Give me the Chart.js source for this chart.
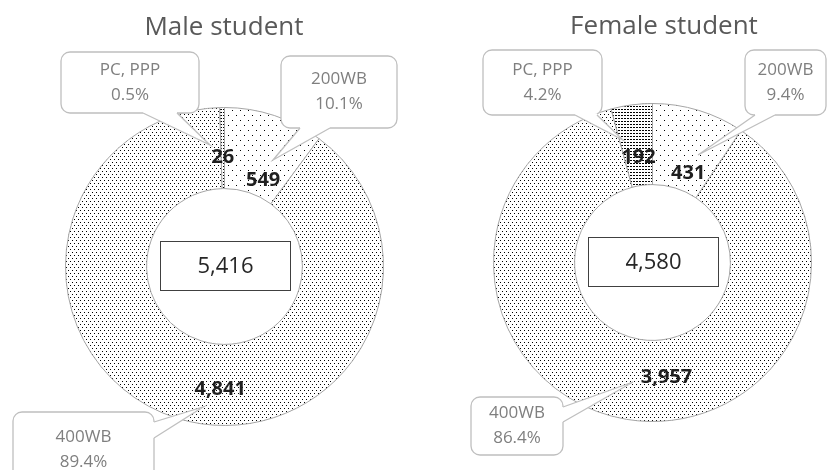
<!DOCTYPE html>
<html>
<head>
<meta charset="utf-8">
<script src="https://cdn.jsdelivr.net/npm/chart.js@4.4.1/dist/chart.umd.min.js"></script>
<style>
  html, body { margin: 0; padding: 0; background: #fff; }
  #marco { position: relative; width: 833px; height: 470px; overflow: hidden; }
  canvas { position: absolute; top: 0; }
</style>
</head>
<body>
<div id="marco">
  <canvas id="graficaHombres" width="416" height="470" style="left:0"></canvas>
  <canvas id="graficaMujeres" width="417" height="470" style="left:416px"></canvas>
</div>
<script>
// ── Datos ─────────────────────────────────────────────────
const categorias = ['200WB', '400WB', 'PC, PPP'];
const valoresHombres = [549, 4841, 26];
const valoresMujeres = [431, 3957, 192];
const titulos = ['Male student', 'Female student'];

// ── Tramas de puntos ──────────────────────────────────────
function crearTrama(ancho, alto, puntos, color) {
  const c = document.createElement('canvas');
  c.width = ancho; c.height = alto;
  const ctx = c.getContext('2d');
  ctx.fillStyle = '#fff';
  ctx.fillRect(0, 0, ancho, alto);
  ctx.fillStyle = color;
  puntos.forEach(([x, y]) => ctx.fillRect(x, y, 1, 1));
  return ctx.createPattern(c, 'repeat');
}

const tramas = [
  crearTrama(8, 10, [[0, 0], [4, 5]], '#000'),   // 200WB
  crearTrama(4, 6, [[0, 0], [2, 3]], '#000'),    // 400WB
  crearTrama(3, 3, [[1, 1], [2, 1]], '#000')     // PC, PPP
];

// ── Globos (callouts) ─────────────────────────────────────
function dibujarGlobo(ctx, g, linea1, linea2) {
  const { x, y, w, h } = g.caja;
  let b1, b2;
  if (g.lado === 'abajo') { b1 = [g.base[0], y + h]; b2 = [g.base[1], y + h]; }
  else { b1 = [x + w, g.base[0]]; b2 = [x + w, g.base[1]]; }

  ctx.save();
  ctx.strokeStyle = '#bfbfbf';
  ctx.fillStyle = '#fff';
  ctx.lineWidth = 1.3;
  ctx.beginPath();
  ctx.roundRect(x, y, w, h, 9);
  ctx.fill();
  ctx.stroke();

  // abrir el borde donde sale la punta
  ctx.strokeStyle = '#fff';
  ctx.lineWidth = 3;
  ctx.beginPath();
  ctx.moveTo(b1[0], b1[1]);
  ctx.lineTo(b2[0], b2[1]);
  ctx.stroke();

  ctx.beginPath();
  ctx.moveTo(b1[0], b1[1]);
  ctx.lineTo(g.punta[0], g.punta[1]);
  ctx.lineTo(b2[0], b2[1]);
  ctx.closePath();
  ctx.fill();

  ctx.strokeStyle = '#bfbfbf';
  ctx.lineWidth = 1.3;
  ctx.beginPath();
  ctx.moveTo(b1[0], b1[1]);
  ctx.lineTo(g.punta[0], g.punta[1]);
  ctx.lineTo(b2[0], b2[1]);
  ctx.stroke();

  ctx.fillStyle = '#7f7f7f';
  ctx.font = '17px "Open Sans"';
  ctx.textAlign = 'center';
  ctx.textBaseline = 'middle';
  const cx = x + w / 2, cy = y + h / 2;
  ctx.fillText(linea1, cx, cy - 12.5);
  ctx.fillText(linea2, cx, cy + 12.5);
  ctx.restore();
}

// ── Plugin: título, globos, etiquetas y total ────────────
const decoracion = {
  id: 'decoracion',
  afterDatasetsDraw(chart, args, opts) {
    const ctx = chart.ctx;
    const meta = chart.getDatasetMeta(0);
    const datos = chart.data.datasets[0].data;
    const total = datos.reduce((a, b) => a + b, 0);
    const cx = meta.data[0].x, cy = meta.data[0].y;

    ctx.save();
    ctx.fillStyle = '#595959';
    ctx.font = '26px "Open Sans"';
    ctx.textAlign = 'center';
    ctx.textBaseline = 'middle';
    ctx.fillText(opts.titulo, opts.tituloX, opts.tituloY);
    ctx.restore();

    opts.globos.forEach((g, i) => {
      dibujarGlobo(ctx, g, chart.data.labels[i], (datos[i] / total * 100).toFixed(1) + '%');
    });

    // etiquetas de valor sobre cada porción
    const mayor = datos.indexOf(Math.max(...datos));
    ctx.save();
    ctx.fillStyle = '#1f1f1f';
    ctx.font = 'bold 20px "Open Sans"';
    ctx.textAlign = 'center';
    ctx.textBaseline = 'middle';
    meta.data.forEach((arco, i) => {
      const p = arco.getProps(['startAngle', 'endAngle', 'innerRadius', 'outerRadius'], true);
      let ang = (p.startAngle + p.endAngle) / 2 + (opts.giroEtiqueta[i] || 0) * Math.PI / 180;
      if (i === mayor) ang = Math.PI / 2 + (opts.giroEtiqueta[i] || 0) * Math.PI / 180;
      const r = p.innerRadius + (p.outerRadius - p.innerRadius) * opts.radioEtiqueta[i];
      ctx.fillText(datos[i].toLocaleString('en-US'), cx + Math.cos(ang) * r, cy + Math.sin(ang) * r);
    });

    // caja central con el total
    const bw = 130, bh = 49;
    const bx = Math.round(cx - bw / 2) + 0.5, by = Math.round(cy - 1.5 - bh / 2) + 0.5;
    ctx.fillStyle = '#fff';
    ctx.fillRect(bx, by, bw, bh);
    ctx.strokeStyle = '#404040';
    ctx.lineWidth = 1;
    ctx.strokeRect(bx, by, bw, bh);
    ctx.fillStyle = '#262626';
    ctx.font = '22px "Open Sans"';
    ctx.fillText(total.toLocaleString('en-US'), bx + bw / 2, by + bh / 2 + 1);
    ctx.restore();
  }
};

// ── Crear cada dona ──────────────────────────────────────
function crearDona(id, valores, padding, deco) {
  return new Chart(document.getElementById(id), {
    type: 'doughnut',
    data: {
      labels: categorias,
      datasets: [{
        data: valores,
        backgroundColor: tramas,
        borderColor: '#a6a6a6',
        borderWidth: 1
      }]
    },
    options: {
      responsive: false,
      animation: false,
      cutout: '49%',
      layout: { padding },
      plugins: {
        legend: { display: false },
        tooltip: { enabled: false },
        decoracion: deco
      }
    },
    plugins: [decoracion]
  });
}

crearDona('graficaHombres', valoresHombres,
  { left: 65, right: 32, top: 107, bottom: 44 },
  {
    titulo: titulos[0], tituloX: 224, tituloY: 28,
    radioEtiqueta: [0.2, 0.56, 0.38],
    giroEtiqueta: [6, 2, 0],
    globos: [
      { caja: { x: 281, y: 56, w: 116, h: 72 }, lado: 'abajo', base: [300, 330], punta: [273, 160] },
      { caja: { x: 13, y: 412, w: 141, h: 76 }, lado: 'derecha', base: [422, 438], punta: [203, 407] },
      { caja: { x: 61, y: 52, w: 138, h: 61 }, lado: 'abajo', base: [143, 177], punta: [210, 145] }
    ]
  });

crearDona('graficaMujeres', valoresMujeres,
  { left: 77, right: 21, top: 103, bottom: 48 },
  {
    titulo: titulos[1], tituloX: 248, tituloY: 27,
    radioEtiqueta: [0.22, 0.46, 0.35],
    giroEtiqueta: [5, -7, 0],
    globos: [
      { caja: { x: 329, y: 50, w: 81, h: 65 }, lado: 'abajo', base: [339, 359], punta: [282, 155] },
      { caja: { x: 55, y: 397, w: 92, h: 58 }, lado: 'derecha', base: [407, 422], punta: [217, 382] },
      { caja: { x: 67, y: 50, w: 119, h: 65 }, lado: 'abajo', base: [159, 181], punta: [207, 140] }
    ]
  });
</script>
</body>
</html>
